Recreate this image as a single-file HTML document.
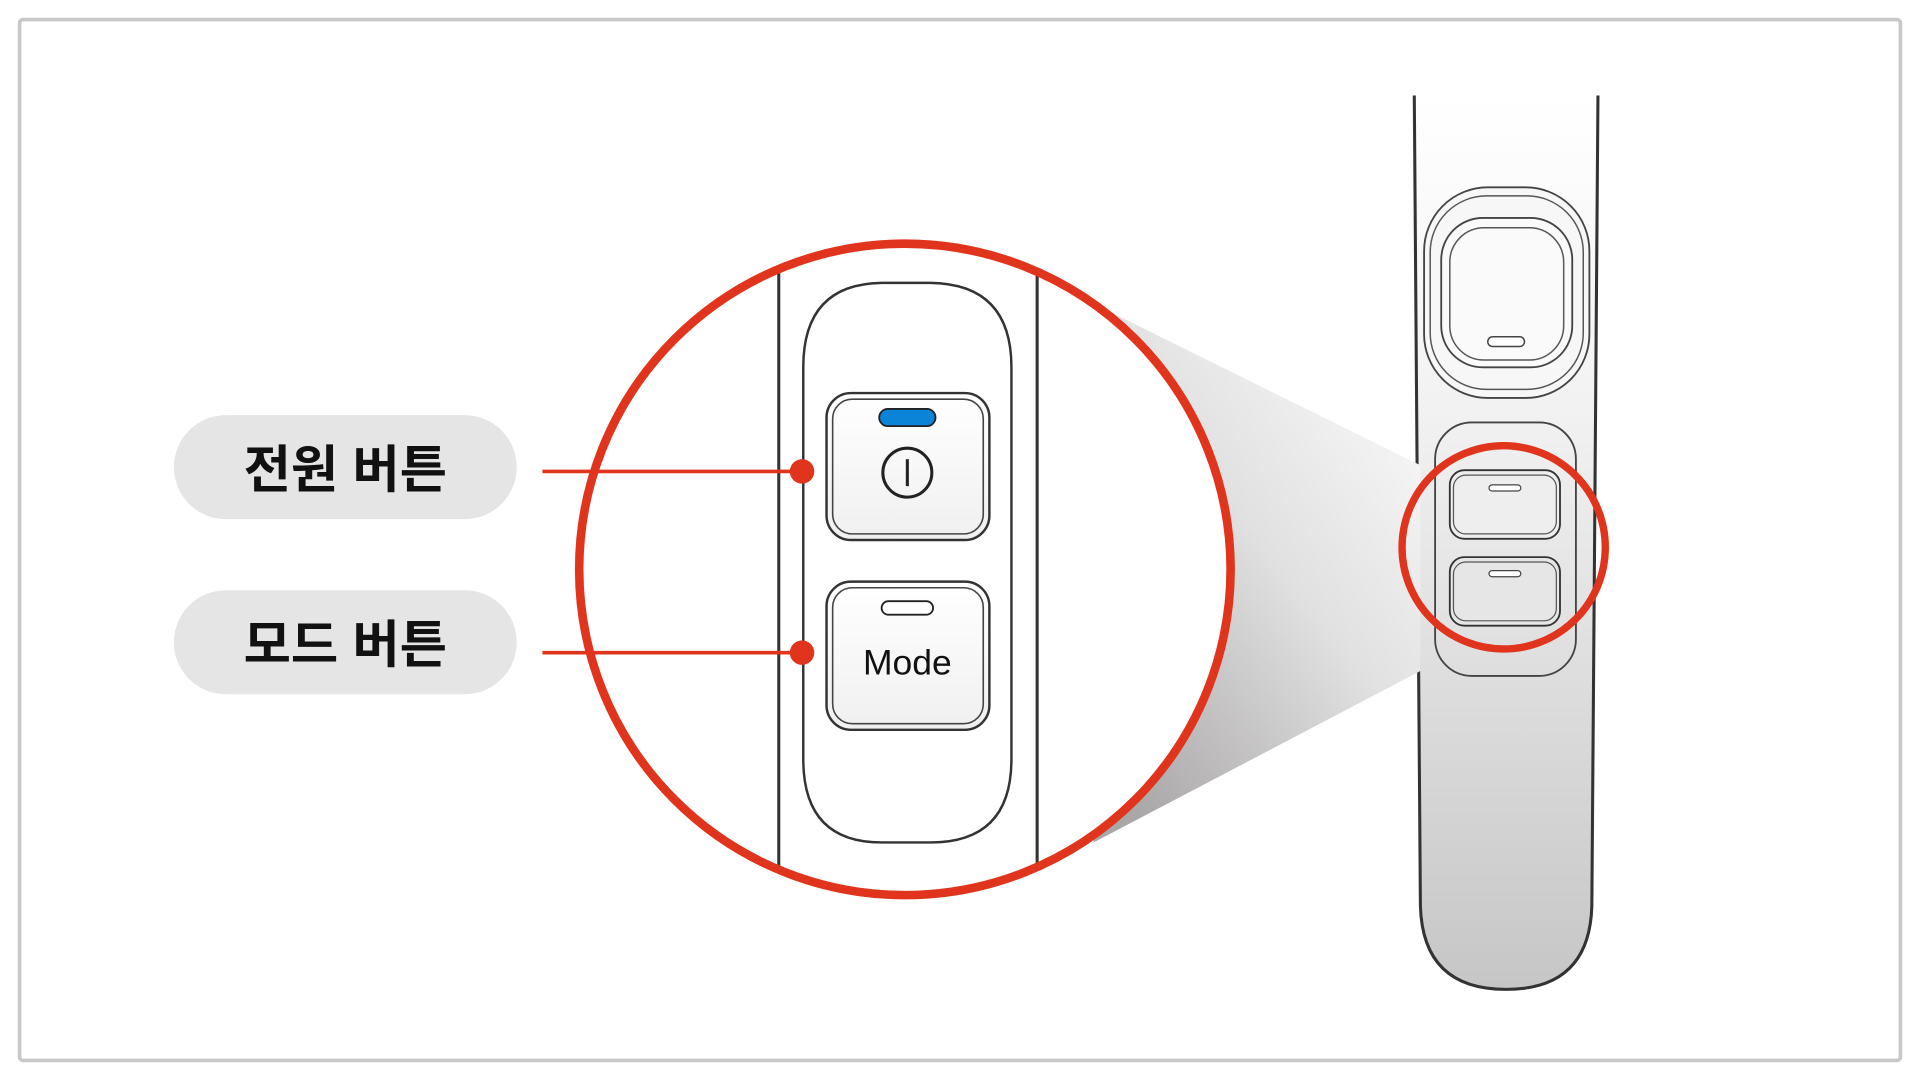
<!DOCTYPE html>
<html><head><meta charset="utf-8"><style>
html,body{margin:0;padding:0;background:#fff;width:1920px;height:1080px;overflow:hidden}
svg{display:block}
</style></head><body>
<svg width="1920" height="1080" viewBox="0 0 1568 882" preserveAspectRatio="none" xmlns="http://www.w3.org/2000/svg">
<defs>
<linearGradient id="cone" x1="1" y1="0" x2="0.2" y2="1">
<stop offset="0" stop-color="#ffffff"/><stop offset="0.5" stop-color="#e2e1e1"/><stop offset="1" stop-color="#a9a7a7"/>
</linearGradient>
<linearGradient id="handle" x1="0" y1="0" x2="0" y2="1">
<stop offset="0" stop-color="#ffffff"/><stop offset="0.35" stop-color="#f2f2f2"/><stop offset="1" stop-color="#c6c6c6"/>
</linearGradient>
<linearGradient id="btn" x1="0" y1="0" x2="0" y2="1">
<stop offset="0" stop-color="#ffffff"/><stop offset="1" stop-color="#f0f0f0"/>
</linearGradient>
<clipPath id="bc"><circle cx="739" cy="465" r="266"/></clipPath>
</defs>
<rect x="16" y="16" width="1536" height="850" rx="3" fill="#fff" stroke="#c8c8c8" stroke-width="3"/>

<path d="M1155 78 L1160 740 Q1162 808 1230 808 Q1298 808 1300 740 L1305 78" fill="url(#handle)" stroke="#333" stroke-width="2.5"/>
<rect x="1163" y="153" width="135" height="172" rx="52" fill="#f7f7f7" stroke="#444" stroke-width="1.5"/>
<rect x="1168" y="160" width="125" height="158" rx="46" fill="none" stroke="#555" stroke-width="1.2"/>
<rect x="1177" y="178" width="107" height="122" rx="34" fill="#fafafa" stroke="#444" stroke-width="1.5"/>
<rect x="1184" y="186" width="93" height="108" rx="28" fill="none" stroke="#555" stroke-width="1.2"/>
<rect x="1215" y="275" width="30" height="8" rx="4" fill="#fff" stroke="#444" stroke-width="1.2"/>
<rect x="1172" y="345" width="115" height="207" rx="30" fill="none" stroke="#444" stroke-width="1.5"/>
<rect x="1184" y="384" width="90" height="56" rx="12" fill="#eee" stroke="#333" stroke-width="1.5"/>
<rect x="1187" y="388" width="84" height="48" rx="10" fill="none" stroke="#555" stroke-width="1"/>
<rect x="1216" y="396" width="26" height="5" rx="2.5" fill="#fff" stroke="#444" stroke-width="1"/>
<rect x="1184" y="455" width="90" height="56" rx="12" fill="#e6e6e6" stroke="#333" stroke-width="1.5"/>
<rect x="1187" y="459" width="84" height="48" rx="10" fill="none" stroke="#555" stroke-width="1"/>
<rect x="1216" y="466" width="26" height="5" rx="2.5" fill="#fff" stroke="#444" stroke-width="1"/>

<polygon points="893,248 1160,380 1160,548 893,688" fill="url(#cone)"/>
<circle cx="1228" cy="447" r="83" fill="none" stroke="#e0341c" stroke-width="6"/>

<circle cx="739" cy="465" r="267" fill="#fff"/>
<g clip-path="url(#bc)">
<line x1="636" y1="180" x2="636" y2="750" stroke="#333" stroke-width="2.5"/>
<line x1="847" y1="180" x2="847" y2="750" stroke="#333" stroke-width="2.5"/>
<path d="M656 300 Q656 232 720 231 L760 231 Q826 232 826 300 L826 620 Q826 688 760 688 L720 688 Q656 688 656 620 Z" fill="#fff" stroke="#333" stroke-width="2"/>
<rect x="675" y="321" width="133" height="120" rx="20" fill="url(#btn)" stroke="#333" stroke-width="2"/>
<rect x="680" y="326" width="123" height="110" rx="16" fill="none" stroke="#444" stroke-width="1.3"/>
<rect x="718" y="334" width="46" height="14" rx="7" fill="#0a84d6" stroke="#222" stroke-width="1.5"/>
<circle cx="741" cy="386" r="20" fill="none" stroke="#222" stroke-width="2.5"/>
<line x1="741" y1="375" x2="741" y2="397" stroke="#222" stroke-width="2.5"/>
<rect x="675" y="475" width="133" height="121" rx="20" fill="url(#btn)" stroke="#333" stroke-width="2"/>
<rect x="680" y="480" width="123" height="111" rx="16" fill="none" stroke="#444" stroke-width="1.3"/>
<rect x="720" y="491" width="42" height="11" rx="5.5" fill="#fff" stroke="#222" stroke-width="1.5"/>
<text x="741" y="551" text-anchor="middle" font-family="Liberation Sans, sans-serif" font-size="29" fill="#111">Mode</text>
</g>
<circle cx="739" cy="465" r="266" fill="none" stroke="#e0341c" stroke-width="7"/>

<rect x="142" y="339" width="280" height="85" rx="42.5" fill="#e5e5e5"/>
<text x="282" y="398" text-anchor="middle" font-family="Liberation Sans, 'Noto Sans CJK KR', sans-serif" font-weight="bold" font-size="42" fill="#111">전원 버튼</text>
<rect x="142" y="482" width="280" height="85" rx="42.5" fill="#e5e5e5"/>
<text x="282" y="541" text-anchor="middle" font-family="Liberation Sans, 'Noto Sans CJK KR', sans-serif" font-weight="bold" font-size="42" fill="#111">모드 버튼</text>
<line x1="443" y1="385" x2="655" y2="385" stroke="#e0341c" stroke-width="3"/>
<circle cx="655" cy="385" r="10" fill="#e0341c"/>
<line x1="443" y1="533" x2="655" y2="533" stroke="#e0341c" stroke-width="3"/>
<circle cx="655" cy="533" r="10" fill="#e0341c"/>
</svg>
</body></html>
